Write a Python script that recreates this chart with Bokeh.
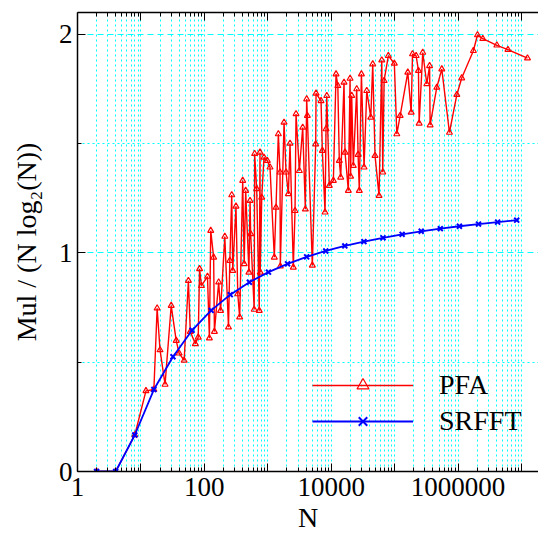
from bokeh.plotting import figure
from bokeh.models import FixedTicker, LogAxis, Range1d, Legend, LegendItem
from bokeh.embed import file_html
from bokeh.resources import INLINE

# ---- data ----
srfft_n = [2, 4, 8, 16, 32, 64, 128, 256, 512, 1024, 2048, 4096, 8192, 16384,
           32768, 65536, 131072, 262144, 524288, 1048576, 2097152, 4194304, 8388608]
srfft_v = [0.0, 0.0, 0.167, 0.375, 0.525, 0.646, 0.737, 0.809, 0.866, 0.912,
           0.950, 0.982, 1.009, 1.032, 1.052, 1.069, 1.085, 1.099, 1.111, 1.122,
           1.132, 1.141, 1.150]

pfa_n = [2, 4, 8, 12, 16, 18, 20, 24, 30, 36,
         40, 48, 56, 60, 72, 80, 84, 90, 112, 120,
         126, 140, 144, 168, 180, 210, 240, 252, 270, 280,
         315, 336, 360, 402, 424, 448, 504, 525, 537, 610,
         620, 668, 733, 753, 760, 802, 871, 983, 1083, 1267,
         1346, 1466, 1557, 1575, 1803, 1938, 2109, 2240, 2524, 2686,
         2786, 3142, 3550, 3906, 4100, 4200, 5035, 5690, 5760, 6900,
         7240, 7980, 8280, 8500, 9330, 10800, 11900, 12700, 13400, 14100,
         15900, 16500, 18600, 19800, 20200, 21000, 22300, 25200, 26500, 27700,
         29900, 32900, 36300, 42000, 45100, 49000, 56700, 62600, 64900, 68100,
         79400, 98800, 108000, 122000, 161000, 182000, 191000, 218000, 237000, 243000,
         277000, 321000, 355000, 362000, 461000, 553000, 730000, 955000, 1140000, 1740000,
         2020000, 2450000, 4080000, 6100000, 12400000]
pfa_v = [0.0, 0.0, 0.167, 0.369, 0.375, 0.747, 0.556, 0.398, 0.759, 0.599,
         0.541, 0.508, 0.873, 0.640, 0.584, 0.614, 0.927, 0.850, 0.892, 0.610,
         1.102, 0.980, 0.640, 0.866, 0.736, 1.075, 0.660, 0.965, 1.265, 0.919,
         1.213, 0.812, 0.706, 1.331, 0.950, 1.285, 0.911, 1.239, 1.087, 0.741,
         1.454, 1.293, 0.736, 1.460, 0.911, 1.254, 1.437, 1.422, 1.392, 0.980,
         1.208, 1.544, 1.369, 0.939, 1.597, 1.369, 1.270, 1.501, 0.934, 1.193,
         1.636, 1.376, 1.574, 1.200, 1.704, 1.628, 0.943, 1.498, 1.730, 1.696,
         1.468, 1.186, 1.567, 1.719, 1.308, 1.331, 1.818, 1.765, 1.422, 1.346,
         1.780, 1.460, 1.285, 1.798, 1.350, 1.720, 1.399, 1.750, 1.450, 1.285,
         1.818, 1.392, 1.742, 1.620, 1.864, 1.445, 1.262, 1.882, 1.369, 1.788,
         1.902, 1.867, 1.544, 1.628, 1.826, 1.643, 1.910, 1.902, 1.834, 1.593,
         1.917, 1.773, 1.856, 1.585, 1.757, 1.841, 1.551, 1.724, 1.800, 1.925,
         1.997, 1.980, 1.950, 1.930, 1.891]

x_major = [1, 10, 100, 1000, 10000, 100000, 1000000, 10000000]
x_labels = {1: "1", 10: "", 100: "100", 1000: "", 10000: "10000",
            100000: "", 1000000: "1000000", 10000000: ""}
x_minor = [m * d for d in [1, 10, 100, 1000, 10000, 100000, 1000000, 10000000]
           for m in range(2, 10)]
y_major = [0, 1, 2]
y_minor = [0.5, 1.5]

FONT = "Liberation Serif"

p = figure(width=538, height=542, x_axis_type="log",
           x_range=Range1d(1, 1.85e7), y_range=Range1d(0, 2.1),
           output_backend="svg", toolbar_location=None,
           min_border_left=77, min_border_right=0, min_border_top=12,
           min_border_bottom=71)
p.outline_line_color = None
p.background_fill_color = "white"

# axes
p.xaxis.ticker = FixedTicker(ticks=x_major, minor_ticks=x_minor)
p.xaxis.major_label_overrides = x_labels
p.yaxis.ticker = FixedTicker(ticks=y_major, minor_ticks=y_minor)

for ax in [p.xaxis[0], p.yaxis[0]]:
    ax.major_tick_in = 8
    ax.major_tick_out = 0
    ax.minor_tick_in = 4
    ax.minor_tick_out = 0
    ax.axis_line_color = "black"
    ax.axis_line_width = 1.5
    ax.major_tick_line_color = "black"
    ax.minor_tick_line_color = "black"
    ax.major_label_text_font = FONT
    ax.major_label_text_font_size = "27px"
    ax.major_label_text_color = "black"
    ax.axis_label_text_font = FONT
    ax.axis_label_text_font_size = "28px"
    ax.axis_label_text_font_style = "normal"
    ax.axis_label_text_color = "black"

p.xaxis.major_label_standoff = 6
p.xaxis.axis_label = "N"
p.xaxis.axis_label_standoff = 3
p.yaxis.major_label_standoff = 5
p.yaxis.axis_label = "Mul / (N log\u2082(N))"
p.yaxis.axis_label_standoff = 14

top = LogAxis(ticker=FixedTicker(ticks=x_major, minor_ticks=x_minor),
              major_label_text_font_size="2px", major_label_text_alpha=0,
              major_label_standoff=0,
              major_tick_in=8, major_tick_out=0, minor_tick_in=4, minor_tick_out=0,
              axis_line_width=1.5)
p.add_layout(top, "above")

# grid
p.xgrid.ticker = FixedTicker(ticks=x_major, minor_ticks=x_minor)
p.ygrid.ticker = FixedTicker(ticks=y_major, minor_ticks=y_minor)
g = p.xgrid[0]
g.grid_line_color = "#00ffff"
g.grid_line_dash = "2 3"
g.grid_line_width = 1
g.minor_grid_line_color = "#00ffff"
g.minor_grid_line_dash = "2 3"
g.minor_grid_line_width = 1
g = p.ygrid[0]
g.grid_line_color = "#00ffff"
g.grid_line_dash = "6 4"
g.grid_line_width = 1
g.minor_grid_line_color = "#00ffff"
g.minor_grid_line_dash = "2 3"
g.minor_grid_line_width = 1

# series
r_pfa_l = p.line(pfa_n, pfa_v, line_color="red", line_width=1.4)
r_pfa_m = p.scatter(pfa_n, pfa_v, marker="triangle", size=6, fill_color=None,
                    line_color="red", line_width=1.2)
r_sr_l = p.line(srfft_n, srfft_v, line_color="blue", line_width=1.8)
r_sr_m = p.scatter(srfft_n, srfft_v, marker="x", size=7, line_color="blue",
                   line_width=2)

legend = Legend(items=[LegendItem(label="PFA", renderers=[r_pfa_l, r_pfa_m]),
                       LegendItem(label="SRFFT", renderers=[r_sr_l, r_sr_m])],
                location=(235, 34), orientation="vertical")
legend.border_line_color = None
legend.background_fill_alpha = 0
legend.padding = 0
legend.margin = 0
legend.spacing = 4
legend.glyph_width = 101
legend.glyph_height = 30
legend.label_height = 30
legend.label_standoff = 26
legend.label_text_font = FONT
legend.label_text_font_size = "28px"
legend.label_text_color = "black"
p.add_layout(legend, "center")

open("out.html", "w").write(file_html(p, INLINE))
